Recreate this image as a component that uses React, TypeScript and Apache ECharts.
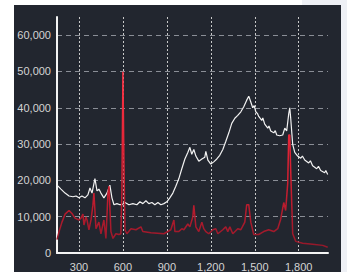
import React, { useEffect, useRef } from "react";
import * as echarts from "echarts";

// Spectrum 1 (white line): wavenumber / intensity
const whiteX = [150, 177, 205, 232, 259, 280, 300, 320, 341, 361, 375, 389, 409, 423, 436, 450, 470, 491, 511, 525, 539, 559, 580, 593, 614, 641, 668, 695, 716, 736, 757, 777, 798, 818, 839, 859, 880, 900, 920, 941, 961, 982, 1002, 1023, 1043, 1057, 1070, 1084, 1098, 1118, 1139, 1159, 1166, 1180, 1200, 1220, 1241, 1261, 1282, 1302, 1323, 1343, 1364, 1384, 1405, 1425, 1445, 1459, 1473, 1486, 1496, 1507, 1520, 1527, 1548, 1555, 1568, 1589, 1597, 1609, 1630, 1640, 1650, 1670, 1691, 1705, 1718, 1732, 1739, 1745, 1759, 1773, 1793, 1814, 1825, 1841, 1868, 1880, 1895, 1923, 1935, 1950, 1977, 1985, 1998];
const whiteY = [18700, 17600, 16500, 15700, 15500, 15700, 15200, 15700, 15200, 16000, 17900, 16500, 20500, 17100, 17600, 16500, 15200, 16500, 18700, 15200, 13300, 13600, 13300, 13300, 13900, 13300, 13600, 13300, 14100, 13600, 14400, 13600, 13900, 13300, 13900, 13300, 13600, 14100, 15200, 16500, 18400, 20500, 23200, 25900, 27700, 29100, 27200, 28500, 26700, 25300, 25900, 26400, 28000, 25600, 24500, 25100, 25900, 26900, 28500, 30700, 33100, 35700, 37100, 37900, 38900, 40300, 42100, 43200, 41600, 40000, 40600, 38900, 38300, 37600, 36500, 37200, 35500, 34400, 35000, 33600, 33100, 33700, 32500, 32300, 32500, 34400, 33600, 38400, 40000, 37300, 29900, 27700, 26700, 26100, 26700, 25600, 24800, 25400, 24000, 23200, 23900, 22700, 22100, 22700, 21600];

// Spectrum 2 (red line)
const redX = [150, 164, 184, 205, 232, 252, 273, 300, 314, 327, 334, 348, 355, 368, 382, 395, 402, 416, 436, 450, 470, 484, 498, 505, 518, 532, 552, 573, 586, 593, 600, 607, 614, 627, 655, 689, 723, 736, 791, 880, 927, 948, 955, 982, 1002, 1016, 1043, 1057, 1077, 1084, 1098, 1118, 1139, 1152, 1166, 1186, 1214, 1234, 1248, 1282, 1302, 1316, 1330, 1350, 1384, 1405, 1432, 1445, 1459, 1473, 1493, 1527, 1561, 1595, 1630, 1657, 1677, 1698, 1711, 1725, 1732, 1739, 1745, 1759, 1780, 1827, 1895, 1964, 1998];
const redY = [3700, 5900, 8500, 10700, 11700, 10900, 9600, 9100, 9600, 10700, 7700, 9900, 9100, 6400, 9100, 13100, 16500, 6700, 8500, 5300, 9100, 4000, 16500, 18400, 5900, 4000, 5300, 5100, 5300, 16500, 49900, 24500, 6400, 5300, 6700, 6400, 7200, 5900, 5600, 5300, 6400, 9100, 5900, 5900, 6700, 6400, 8000, 7200, 9900, 13100, 7200, 5900, 8500, 6700, 5900, 5300, 6400, 6700, 5300, 6400, 7200, 5900, 7200, 5300, 6700, 6400, 8500, 13300, 13300, 8500, 5100, 5100, 5900, 6400, 5900, 6700, 9300, 13900, 11700, 19200, 32500, 32500, 23200, 5300, 3200, 2700, 2400, 2100, 1600];

const xMin = 150;
const xMax = 2000;
const yMin = 0;
const yMax = 65000;
const yStep = 10000;

export default function App() {
  const ref = useRef<HTMLDivElement>(null);
  useEffect(() => {
    if (!ref.current) return;
    const chart = echarts.init(ref.current, null, { renderer: "svg" });
    const white = whiteX.map((x, i) => [x, whiteY[i]]);
    const red = redX.map((x, i) => [x, redY[i]]);
    const labelStyle = { color: "#d4d4d4", fontSize: 11, fontFamily: "Arial" };
    chart.setOption({
      animation: false,
      backgroundColor: "#22262f",
      grid: { left: 43, top: 12, right: 13, bottom: 10, containLabel: false },
      xAxis: {
        type: "value",
        min: xMin,
        max: xMax,
        splitNumber: 5,
        axisLine: { show: true, onZero: false, lineStyle: { color: "#f4f4f4", width: 2 } },
        axisTick: { show: false },
        axisLabel: {
          ...labelStyle,
          margin: 8,
          showMinLabel: false,
          showMaxLabel: false,
          formatter: (v: number) => (v % 300 === 0 ? v.toLocaleString("en-US") : ""),
        },
        splitLine: {
          show: true,
          showMinLine: false,
          showMaxLine: false,
          lineStyle: { color: "#c8c8c8", type: [2, 2], width: 1 },
        },
      },
      yAxis: {
        type: "value",
        min: yMin,
        max: yMax,
        interval: yStep,
        axisLine: { show: true, lineStyle: { color: "#f4f4f4", width: 2 } },
        axisTick: { show: false },
        axisLabel: {
          ...labelStyle,
          margin: 6,
          showMaxLabel: false,
          formatter: (v: number) => (v > 60000 ? "" : v.toLocaleString("en-US")),
        },
        splitLine: {
          show: true,
          showMinLine: false,
          showMaxLine: false,
          lineStyle: { color: "#8a8e96", type: [5, 4], width: 1 },
        },
      },
      series: [
        {
          type: "line",
          data: white,
          showSymbol: false,
          symbol: "none",
          lineStyle: { color: "#f2f2f2", width: 1.2 },
          z: 2,
        },
        {
          type: "line",
          data: red,
          showSymbol: false,
          symbol: "none",
          lineStyle: {
            width: 1.5,
            color: new echarts.graphic.LinearGradient(0, 0, 0, 1, [
              { offset: 0, color: "#ff3345" },
              { offset: 0.6, color: "#d41e30" },
              { offset: 1, color: "#94182a" },
            ]),
          },
          z: 3,
        },
      ],
    });
    return () => chart.dispose();
  }, []);

  return (
    <div style={{ position: "fixed", left: 0, top: 0, width: 347, height: 272, background: "#ffffff", overflow: "hidden" }}>
      <div style={{ position: "absolute", left: 302, top: 0, width: 45, height: 272, background: "#eef0f5" }} />
      <div ref={ref} style={{ position: "absolute", left: 14, top: 5, width: 327, height: 267 }} />
    </div>
  );
}
